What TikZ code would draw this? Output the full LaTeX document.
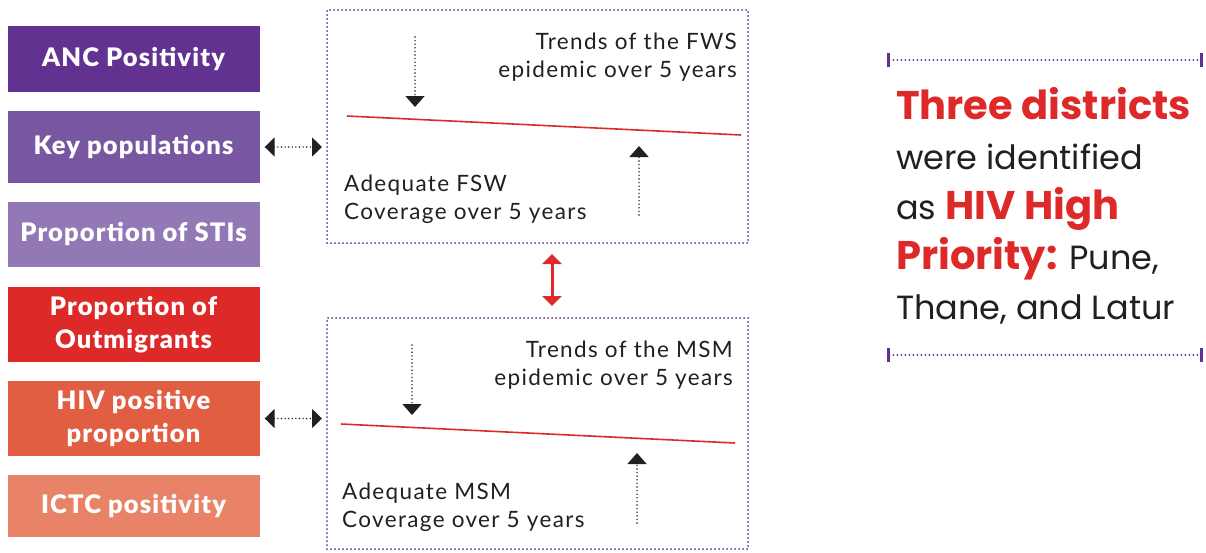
\documentclass[tikz,border=0pt]{standalone}
\usepackage{fontspec}
\setmainfont{Lato}
\newfontfamily\popfont{Poppins}
\newfontfamily\heavyfont{Lato Black}[LetterSpace=4.5]
\newfontfamily\bookfont{Lato}[LetterSpace=6]
\usetikzlibrary{arrows.meta,positioning}
\definecolor{plum}{RGB}{98,50,145}
\definecolor{mauve}{RGB}{121,86,161}
\definecolor{lilac}{RGB}{146,121,181}
\definecolor{scarlet}{RGB}{221,41,40}
\definecolor{coral}{RGB}{226,94,66}
\definecolor{salmon}{RGB}{233,131,104}
\definecolor{ink}{RGB}{35,31,32}
\tikzset{
  factor/.style={fill=#1,text=white,font=\heavyfont\fontsize{25.5}{33}\selectfont,
    minimum width=252pt,align=center,inner sep=0pt},
  frame/.style={draw=plum,line width=2pt,dash pattern=on 0pt off 4pt,line cap=round,
    minimum width=421pt,inner sep=0pt},
  note/.style={text=ink,font=\bookfont\fontsize{22.5}{28}\selectfont,inner sep=0pt},
  link/.style={ink,line width=1.6pt,dash pattern=on 0pt off 3.6pt,line cap=round,
    {Triangle[width=19pt,length=10pt]}-{Triangle[width=19pt,length=10pt]}},
  pointer/.style={ink,line width=1.6pt,dash pattern=on 0pt off 3.6pt,line cap=round,
    -{Triangle[width=19pt,length=11pt]}},
  trend/.style={scarlet,line width=1.6pt},
  rule/.style={plum,line width=2pt,dash pattern=on 0pt off 4pt,line cap=round,
    {Bar[width=14pt,line width=3pt]}-{Bar[width=14pt,line width=3pt]}}
}
\begin{document}
\begin{tikzpicture}[x=1pt,y=-1pt]
  \useasboundingbox (0,0) rectangle (1206,552);
  % indicator boxes
  \foreach \y/\h/\c/\t/\n in {
    59/66/plum/ANC Positivity/anc,
    147/72/mauve/Key populations/key,
    234.5/65/lilac/Proportion of STIs/sti,
    324.5/75/scarlet/Proportion of\\Outmigrants/out,
    418.5/75/coral/HIV positive\\proportion/hiv,
    506/62/salmon/ICTC positivity/ictc}
  {
    \node[factor=\c,minimum height=\h pt] (\n) at (133.5,\y) {\t};
  }
  % epidemic frames
  \node[frame,minimum height=233pt] (fws) at (537.5,126.5) {};
  \node[frame,minimum height=231pt] (msm) at (537.5,433.5) {};
  \draw[link,shorten <=5pt,shorten >=4pt] (key.east) -- (fws.west |- key.east);
  \draw[link,shorten <=5pt,shorten >=4pt] (hiv.east) -- (msm.west |- hiv.east);
  \draw[scarlet,line width=3pt,{Triangle[width=19pt,length=10pt]}-{Triangle[width=19pt,length=10pt]},
    shorten <=11pt,shorten >=12pt] (552,243) -- (552,318);
  % FSW frame
  \coordinate (fwsl) at (347,116);
  \coordinate (fwsr) at (741,135);
  \draw[trend] (fwsl) -- (fwsr);
  \coordinate (fwsa) at (415,37);
  \coordinate (fwsb) at (639,215);
  \draw[pointer] (fwsa) -- ++(0,70);
  \draw[pointer] (fwsb) -- ++(0,-69);
  \node[note,anchor=north east,align=right] (fwstrend) at (737,33) {Trends of the FWS\\epidemic over 5 years};
  \node[note,anchor=north west,align=left] (fwscov) at (344,175) {Adequate FSW\\Coverage over 5 years};
  % MSM frame
  \coordinate (msml) at (341,424);
  \coordinate (msmr) at (735,443);
  \draw[trend] (msml) -- (msmr);
  \coordinate (msma) at (412,345);
  \coordinate (msmb) at (637,523);
  \draw[pointer] (msma) -- ++(0,70);
  \draw[pointer] (msmb) -- ++(0,-70);
  \node[note,anchor=north east,align=right] (msmtrend) at (733,341) {Trends of the MSM\\epidemic over 5 years};
  \node[note,anchor=north west,align=left] (msmcov) at (342,483) {Adequate MSM\\Coverage over 5 years};
  % summary
  \coordinate (topl) at (887,60);
  \coordinate (topr) at (1203,60);
  \coordinate (botl) at (887,355);
  \coordinate (botr) at (1203,355);
  \draw[rule] (topl) -- (topr);
  \draw[rule] (botl) -- (botr);
  \node[anchor=north west,align=left,inner sep=0pt,text=ink,
    font=\popfont\fontsize{33.5}{50}\selectfont] (summary) at (896,87)
    {{\color{scarlet}\bfseries\fontsize{40}{50}\selectfont Three districts}\\
     were identified\\
     as {\color{scarlet}\bfseries\fontsize{40}{50}\selectfont HIV High}\\
     {\color{scarlet}\bfseries\fontsize{40}{50}\selectfont Priority:} Pune,\\
     Thane, and Latur};
\end{tikzpicture}
\end{document}
